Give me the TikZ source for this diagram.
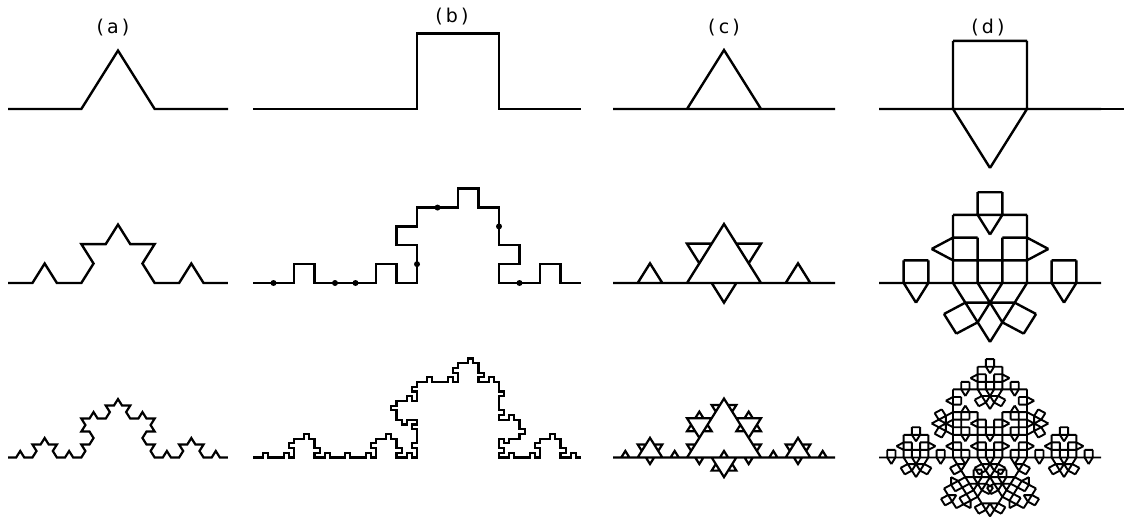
\documentclass[tikz,border=0pt]{standalone}
\usepackage{fontspec}
\setmainfont{DejaVu Sans}
\usetikzlibrary{lindenmayersystems}
\tikzset{
  frac/.style={line width=2.4pt, line join=miter, line cap=butt},
  fracmid/.style={line width=2.2pt, line join=miter, line cap=butt},
  fracfine/.style={line width=1.9pt, line join=miter, line cap=butt},
  lbl/.style={font=\fontsize{19}{19}\selectfont, inner sep=0pt},
  bdot/.style={circle, fill=black, inner sep=0pt, minimum size=6pt}
}
\begin{document}
\begin{tikzpicture}[x=1pt,y=1pt]
\useasboundingbox (0,0) rectangle (1124,523);
% labels
\node[lbl] (la) at (113,495) {(\,a\,)};
\node[lbl] (lb) at (452,506) {(\,b\,)};
\node[lbl] (lc) at (724,495) {(\,c\,)};
\node[lbl] (ld) at (988,495) {(\,d\,)};

% ---------- (a) Koch curve ----------
\begin{scope}[shift={(8,414)}, yscale=0.92]
\draw[frac, l-system={rule set={F -> F+F--F+F}, axiom=F, order=1, step=73.333pt, angle=60}] (0,0) lindenmayer system;
\end{scope}
\begin{scope}[shift={(8,240)}, yscale=0.92]
\draw[frac, l-system={rule set={F -> F+F--F+F}, axiom=F, order=2, step=24.444pt, angle=60}] (0,0) lindenmayer system;
\end{scope}
\begin{scope}[shift={(8,65.5)}, yscale=0.92]
\draw[fracmid, l-system={rule set={F -> F+F--F+F}, axiom=F, order=3, step=8.148pt, angle=60}] (0,0) lindenmayer system;
\end{scope}

% ---------- (b) quadratic curve ----------
\begin{scope}[shift={(253,414)}, yscale=0.92]
\draw[frac, l-system={rule set={F -> FF+F-F-F+F}, axiom=F, order=1, step=82pt, angle=90}] (0,0) lindenmayer system;
\end{scope}
\begin{scope}[shift={(253,240)}, yscale=0.92]
\draw[frac, l-system={rule set={F -> FF+F-F-F+F}, axiom=F, order=2, step=20.5pt, angle=90}] (0,0) lindenmayer system;
\node[bdot] (b1) at (20.5,0) {};
\node[bdot] (b2) at (82,0) {};
\node[bdot] (b3) at (102.5,0) {};
\node[bdot] (b4) at (164,20.5) {};
\node[bdot] (b5) at (184.5,82) {};
\node[bdot] (b6) at (246,61.5) {};
\node[bdot] (b7) at (266.5,0) {};
\end{scope}
\begin{scope}[shift={(253,65.5)}, yscale=0.92]
\draw[fracmid, l-system={rule set={F -> FF+F-F-F+F}, axiom=F, order=3, step=5.125pt, angle=90}] (0,0) lindenmayer system;
\end{scope}

% ---------- (c) triangles ----------
\begin{scope}[shift={(613,414)}, yscale=0.92]
\draw[frac, l-system={rule set={F -> F[+F--F--F]fF, f -> fff}, axiom=F, order=1, step=74pt, angle=60}] (0,0) lindenmayer system;
\end{scope}
\begin{scope}[shift={(613,240)}, yscale=0.92]
\draw[frac, l-system={rule set={F -> F[+F--F--F]fF, f -> fff}, axiom=F, order=2, step=24.667pt, angle=60}] (0,0) lindenmayer system;
\end{scope}
\begin{scope}[shift={(613,65.5)}, yscale=0.92]
\draw[fracmid, l-system={rule set={F -> F[+F--F--F]fF, f -> fff}, axiom=F, order=3, step=8.222pt, angle=60}] (0,0) lindenmayer system;
\end{scope}

% ---------- (d) squares and triangles ----------
\begin{scope}[shift={(879,414)}, yscale=0.92]
\draw[frac, l-system={rule set={F -> F[+++f++++++F][+++f---F][f+++F][--f++++++F][f----F]FF, f -> fff}, axiom=F, order=1, step=74pt, angle=30}] (0,0) lindenmayer system;
\coordinate (dend) at (222,0);
\coordinate (dext) at (245,0);
\draw[frac] (dend) -- (dext);
\end{scope}
\begin{scope}[shift={(879,240)}, yscale=0.92]
\draw[frac, l-system={rule set={F -> F[+++f++++++F][+++f---F][f+++F][--f++++++F][f----F]FF, f -> fff}, axiom=F, order=2, step=24.667pt, angle=30}] (0,0) lindenmayer system;
\end{scope}
\begin{scope}[shift={(879,65.5)}, yscale=0.92]
\draw[fracfine, l-system={rule set={F -> F[+++f++++++F][+++f---F][f+++F][--f++++++F][f----F]FF, f -> fff}, axiom=F, order=3, step=8.222pt, angle=30}] (0,0) lindenmayer system;
\end{scope}
\end{tikzpicture}
\end{document}
